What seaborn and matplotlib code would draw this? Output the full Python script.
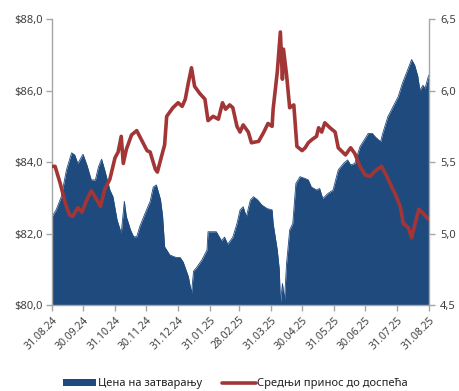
import matplotlib
matplotlib.use("Agg")
import matplotlib.pyplot as plt
from matplotlib.ticker import FuncFormatter, FixedLocator
from matplotlib.patches import Patch
from matplotlib.lines import Line2D
import seaborn as sns
import pandas as pd

# Closing price (USD)
price_dates = [
    "2024-08-31", "2024-09-04", "2024-09-09", "2024-09-14", "2024-09-19", "2024-09-22",
    "2024-09-25", "2024-09-30", "2024-10-04", "2024-10-08", "2024-10-12", "2024-10-15",
    "2024-10-18", "2024-10-21", "2024-10-26", "2024-10-29", "2024-11-02", "2024-11-05",
    "2024-11-06", "2024-11-09", "2024-11-11", "2024-11-15", "2024-11-18", "2024-11-21",
    "2024-11-24", "2024-11-29", "2024-12-04", "2024-12-07", "2024-12-10", "2024-12-14",
    "2024-12-16", "2024-12-18", "2024-12-23", "2024-12-29", "2025-01-02", "2025-01-05",
    "2025-01-10", "2025-01-13", "2025-01-15", "2025-01-18", "2025-01-23", "2025-01-28",
    "2025-01-29", "2025-02-03", "2025-02-06", "2025-02-11", "2025-02-14", "2025-02-17",
    "2025-02-22", "2025-02-26", "2025-03-01", "2025-03-04", "2025-03-07", "2025-03-11",
    "2025-03-14", "2025-03-18", "2025-03-22", "2025-03-27", "2025-04-01", "2025-04-02",
    "2025-04-06", "2025-04-08", "2025-04-09", "2025-04-11", "2025-04-13", "2025-04-15",
    "2025-04-18", "2025-04-21", "2025-04-24", "2025-04-28", "2025-05-03", "2025-05-06",
    "2025-05-09", "2025-05-14", "2025-05-17", "2025-05-20", "2025-05-25", "2025-05-30",
    "2025-06-04", "2025-06-09", "2025-06-13", "2025-06-16", "2025-06-20", "2025-06-25",
    "2025-06-30", "2025-07-03", "2025-07-07", "2025-07-10", "2025-07-15", "2025-07-17",
    "2025-07-22", "2025-07-27", "2025-08-01", "2025-08-05", "2025-08-10", "2025-08-14",
    "2025-08-17", "2025-08-20", "2025-08-22", "2025-08-25", "2025-08-27", "2025-08-30",
    "2025-08-31",
]
price_values = [
    82.47, 82.66, 83.03, 83.78, 84.26, 84.20,
    83.96, 84.22, 83.90, 83.50, 83.50, 83.87,
    84.08, 83.78, 83.22, 83.03, 82.38, 82.10,
    82.00, 82.90, 82.47, 82.10, 81.91, 81.91,
    82.20, 82.56, 82.90, 83.30, 83.36, 82.95,
    82.50, 81.63, 81.40, 81.33, 81.33, 81.20,
    80.79, 80.33, 80.95, 81.05, 81.26, 81.54,
    82.05, 82.05, 82.05, 81.80, 81.90, 81.70,
    81.90, 82.28, 82.66, 82.75, 82.47, 82.94,
    83.03, 82.94, 82.80, 82.70, 82.66, 82.28,
    81.54, 80.98, 80.05, 80.60, 80.14, 81.16,
    82.10, 82.28, 83.40, 83.59, 83.54, 83.50,
    83.30, 83.22, 83.26, 82.98, 83.12, 83.22,
    83.78, 83.96, 84.06, 83.92, 83.96, 84.43,
    84.66, 84.80, 84.80, 84.70, 84.57, 84.80,
    85.27, 85.55, 85.83, 86.20, 86.57, 86.87,
    86.71, 86.40, 86.01, 86.15, 86.06, 86.38,
    86.45,
]

# Average yield to maturity (%)
yield_dates = [
    "2024-08-31", "2024-09-03", "2024-09-08", "2024-09-13", "2024-09-17", "2024-09-20",
    "2024-09-25", "2024-09-29", "2024-10-04", "2024-10-08", "2024-10-13", "2024-10-17",
    "2024-10-21", "2024-10-26", "2024-10-31", "2024-11-03", "2024-11-06", "2024-11-08",
    "2024-11-11", "2024-11-16", "2024-11-21", "2024-11-26", "2024-12-01", "2024-12-04",
    "2024-12-09", "2024-12-11", "2024-12-15", "2024-12-18", "2024-12-20", "2024-12-26",
    "2024-12-31", "2025-01-04", "2025-01-07", "2025-01-10", "2025-01-13", "2025-01-16",
    "2025-01-21", "2025-01-26", "2025-01-29", "2025-02-03", "2025-02-08", "2025-02-12",
    "2025-02-15", "2025-02-19", "2025-02-22", "2025-02-26", "2025-03-01", "2025-03-04",
    "2025-03-09", "2025-03-12", "2025-03-19", "2025-03-24", "2025-03-28", "2025-04-01",
    "2025-04-02", "2025-04-06", "2025-04-09", "2025-04-11", "2025-04-12", "2025-04-15",
    "2025-04-18", "2025-04-22", "2025-04-25", "2025-04-30", "2025-05-03", "2025-05-06",
    "2025-05-10", "2025-05-14", "2025-05-16", "2025-05-19", "2025-05-22", "2025-05-27",
    "2025-06-01", "2025-06-04", "2025-06-11", "2025-06-16", "2025-06-20", "2025-06-25",
    "2025-06-30", "2025-07-05", "2025-07-10", "2025-07-16", "2025-07-21", "2025-07-27",
    "2025-07-29", "2025-08-03", "2025-08-06", "2025-08-11", "2025-08-14", "2025-08-17",
    "2025-08-21", "2025-08-24", "2025-08-29", "2025-08-31",
]
yield_values = [
    5.47, 5.47, 5.35, 5.21, 5.13, 5.12,
    5.18, 5.15, 5.24, 5.30, 5.24, 5.19,
    5.31, 5.38, 5.53, 5.57, 5.68, 5.49,
    5.59, 5.69, 5.72, 5.65, 5.58, 5.57,
    5.45, 5.43, 5.54, 5.62, 5.82, 5.88,
    5.915, 5.89, 5.94, 6.056, 6.16, 6.03,
    5.98, 5.94, 5.79, 5.82, 5.80, 5.915,
    5.87, 5.90, 5.88, 5.75, 5.71, 5.76,
    5.71, 5.635, 5.645, 5.71, 5.77, 5.75,
    5.87, 6.13, 6.41, 6.08, 6.29, 6.11,
    5.88, 5.90, 5.61, 5.58, 5.60, 5.635,
    5.66, 5.68, 5.74, 5.71, 5.775, 5.74,
    5.71, 5.60, 5.55, 5.60, 5.56, 5.47,
    5.41, 5.40, 5.44, 5.47, 5.40, 5.307,
    5.28, 5.19, 5.07, 5.04, 4.97, 5.06,
    5.17, 5.15, 5.11, 5.10,
]

tick_dates = [
    "2024-08-31", "2024-09-30", "2024-10-31", "2024-11-30", "2024-12-31",
    "2025-01-31", "2025-02-28", "2025-03-31", "2025-04-30", "2025-05-31",
    "2025-06-30", "2025-07-31", "2025-08-31",
]

price_label = "Цена на затварању"
yield_label = "Средњи принос до доспећа"

BLUE = "#1F4A7E"
RED = "#A23636"
SPINE = "#A6A6A6"
TEXT = "#404040"

sns.set_theme(style="white")
plt.rcParams["font.family"] = ["Noto Sans", "DejaVu Sans"]

price_df = pd.DataFrame({"date": pd.to_datetime(price_dates), "price": price_values})
yield_df = pd.DataFrame({"date": pd.to_datetime(yield_dates), "ytm": yield_values})

fig = plt.figure(figsize=(4.6, 3.91), dpi=100)
ax = fig.add_axes([0.113, 0.220, 0.820, 0.731])
ax2 = ax.twinx()

# Closing price as a filled area
sns.lineplot(data=price_df, x="date", y="price", ax=ax, color=BLUE, linewidth=0.6, legend=False)
ax.fill_between(price_df["date"], price_df["price"], 80.0, color=BLUE, linewidth=0)

# Yield on the secondary axis
sns.lineplot(data=yield_df, x="date", y="ytm", ax=ax2, color=RED, linewidth=2.6, legend=False)

start, end = pd.Timestamp(tick_dates[0]), pd.Timestamp(tick_dates[-1])
ax.set_xlim(start, end)
ax.set_ylim(80, 88)
ax2.set_ylim(4.5, 6.5)

ax.yaxis.set_major_locator(FixedLocator([80, 82, 84, 86, 88]))
ax.yaxis.set_major_formatter(FuncFormatter(lambda v, p: "$" + f"{v:.1f}".replace(".", ",")))
ax2.yaxis.set_major_locator(FixedLocator([4.5, 5.0, 5.5, 6.0, 6.5]))
ax2.yaxis.set_major_formatter(FuncFormatter(lambda v, p: f"{v:.1f}".replace(".", ",")))

ticks = pd.to_datetime(tick_dates)
ax.set_xticks(ticks)
ax.set_xticklabels([t.strftime("%d.%m.%y") for t in ticks], rotation=45,
                   ha="right", rotation_mode="anchor")

for a in (ax, ax2):
    a.set_xlabel("")
    a.set_ylabel("")
    a.grid(False)
    a.spines["top"].set_visible(False)
    for side in ("left", "right", "bottom"):
        a.spines[side].set_color(SPINE)
        a.spines[side].set_linewidth(1.0)

ax.tick_params(axis="y", which="major", left=True, length=4, width=1, color=SPINE,
               labelsize=8, labelcolor=TEXT, pad=3)
ax.tick_params(axis="x", which="major", bottom=True, length=4, width=1, color=SPINE,
               labelsize=7.5, labelcolor=TEXT, pad=3)
ax2.tick_params(axis="y", which="major", right=True, length=4, width=1, color=SPINE,
                labelsize=8, labelcolor=TEXT, pad=4)
ax2.spines["left"].set_visible(False)
ax2.spines["bottom"].set_visible(False)
ax.spines["right"].set_visible(False)

handles = [
    Patch(facecolor=BLUE, edgecolor="none", label=price_label),
    Line2D([0], [0], color=RED, linewidth=2.6, label=yield_label),
]
fig.legend(handles=handles, loc="center", bbox_to_anchor=(0.512, 0.018), ncol=2,
           frameon=False, fontsize=8, handlelength=3.0, handleheight=0.6,
           handletextpad=0.15, columnspacing=1.8, labelcolor="#202020")

fig.savefig("out.png", dpi=100)
